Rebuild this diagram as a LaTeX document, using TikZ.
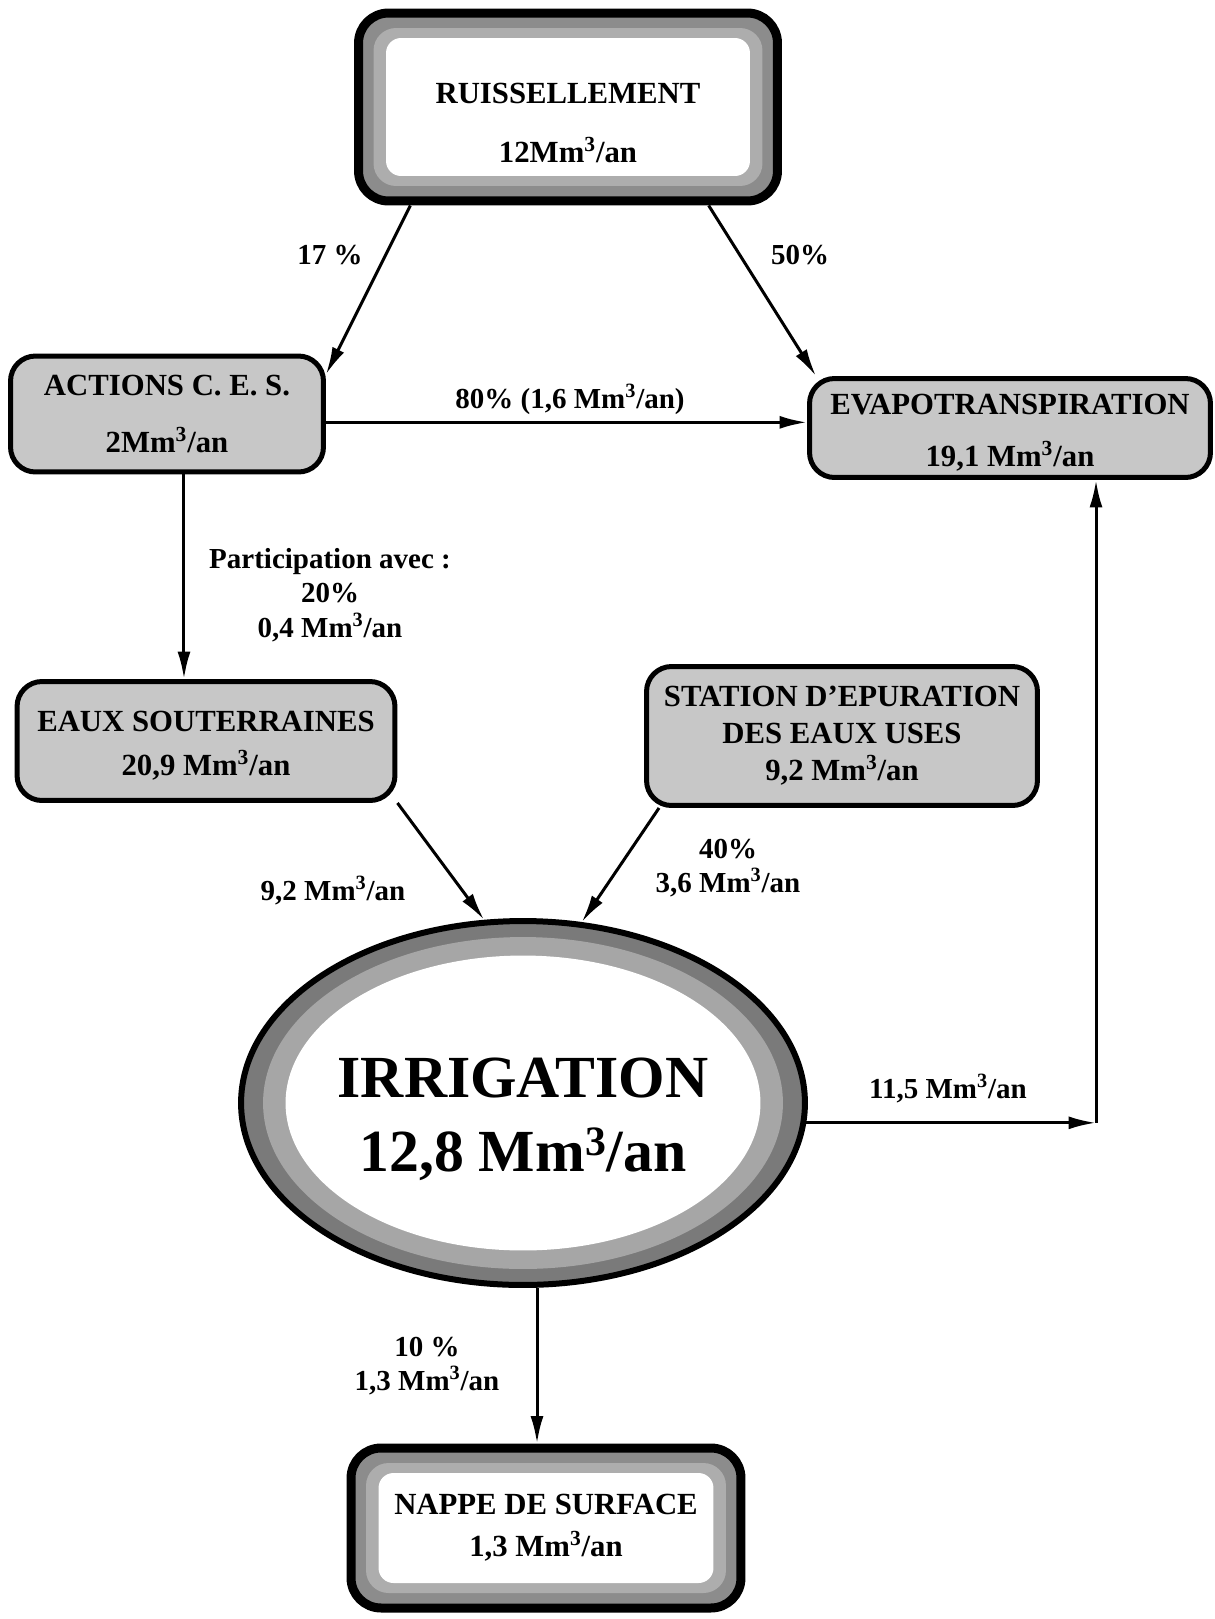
\documentclass[tikz,border=0pt]{standalone}
\usepackage{fontspec}
\setmainfont{Liberation Serif}
\usetikzlibrary{arrows.meta, shapes.geometric, positioning, calc}
\newcommand{\mmc}{Mm\textsuperscript{3}/an}

\begin{document}
\begin{tikzpicture}[
    x=0.02cm, y=-0.02cm,
    flux/.style={rectangle, draw=black, line width=0.1cm, fill=black!22, rounded corners=0.5cm, align=center, inner sep=0pt, font=\fontsize{17.5}{21}\selectfont\bfseries},
    bord/.style={rectangle, draw=black, line width=0.18cm, fill=black!45, rounded corners=0.6cm, align=center, inner sep=0pt, font=\fontsize{17.5}{21}\selectfont\bfseries,
        path picture={\fill[black!32, rounded corners=0.45cm] ([shift={(0.3cm,0.3cm)}]path picture bounding box.south west) rectangle ([shift={(-0.3cm,-0.3cm)}]path picture bounding box.north east);
                      \fill[white, rounded corners=0.3cm] ([shift={(0.55cm,0.5cm)}]path picture bounding box.south west) rectangle ([shift={(-0.55cm,-0.5cm)}]path picture bounding box.north east);}},
    lbl/.style={font=\fontsize{16.5}{19.5}\selectfont\bfseries, align=center, inner sep=0pt},
    arrow/.style={-{Latex[length=0.55cm, width=0.26cm]}, line width=0.06cm, draw=black}
]
    \useasboundingbox (0,0) rectangle (1214,1619);

    \node[bord, minimum width=8.38cm, minimum height=3.76cm] (ruiss) at (568,107) {\rule{0pt}{1.04cm}RUISSELLEMENT \\[0.45cm] 12\mmc};
    \node[flux, minimum width=6.26cm, minimum height=2.32cm] (actions) at (167,414) {ACTIONS C. E. S. \\[0.4cm] 2\mmc};
    \node[flux, minimum width=8.02cm, minimum height=1.98cm] (evapo) at (1010,428) {\rule{0pt}{0.6cm}EVAPOTRANSPIRATION \\[0.3cm] 19,1 \mmc};
    \node[flux, minimum width=7.56cm, minimum height=2.38cm] (eaux) at (206,741) {\rule{0pt}{0.6cm}EAUX SOUTERRAINES \\[0.15cm] 20,9 \mmc};
    \node[flux, minimum width=7.82cm, minimum height=2.78cm] (station) at (842,736) {STATION D'EPURATION \\ DES EAUX USES \\ 9,2 \mmc};
    \node[bord, minimum width=7.8cm, minimum height=3.2cm] (nappe) at (546,1528) {NAPPE DE SURFACE \\[0.1cm] 1,3 \mmc};

    % irrigation
    \node[ellipse, draw=black, line width=0.12cm, fill=black!52, minimum width=11.28cm, minimum height=7.28cm, inner sep=0pt,
        path picture={\fill[black!35] (path picture bounding box.center) ellipse [x radius=5.2cm, y radius=3.32cm];
                      \fill[white] (path picture bounding box.center) ellipse [x radius=4.75cm, y radius=2.95cm];}] (irrig) at (523,1103) {};
    \node[font=\fontsize{34}{42}\selectfont\bfseries, align=center] (irrigtext) at (523,1119) {IRRIGATION \\ 12,8 \mmc};

    \coordinate (cesdown) at ([xshift=0.34cm]actions.south);
    \coordinate (irrdown) at ([xshift=0.28cm]irrig.south);
    \coordinate (bend) at (1096,0 |- irrig.-4);

    \draw[arrow] (ruiss.212) -- (actions.14);
    \draw[arrow] (ruiss.-35) -- (evapo.165);
    \draw[arrow] (actions.-3) -- (actions.-3 -| evapo.west);
    \draw[arrow] (cesdown) -- (cesdown |- eaux.north);
    \draw[arrow] (eaux.south east) -- (irrig.102);
    \draw[arrow] ([xshift=0.3cm]station.south west) -- (irrig.72);
    \draw[arrow] (irrig.-4) -- (bend);
    \draw[arrow] (bend) -- (bend |- evapo.south);
    \draw[arrow] (irrdown) -- (irrdown |- nappe.north);

    \node[lbl] (p17) at (330,255) {17 \%};
    \node[lbl] (p50) at (800,255) {50\%};
    \node[lbl] (p80) at (570,399) {80\% (1,6 \mmc)};
    \node[lbl] (ppart) at (330,595) {Participation avec :\\20\%\\0,4 \mmc};
    \node[lbl] (p92) at (333,891) {9,2 \mmc};
    \node[lbl] (p40) at (728,868) {40\%\\3,6 \mmc};
    \node[lbl] (p115) at (948,1089) {11,5 \mmc};
    \node[lbl] (p10) at (427,1366) {10 \%\\1,3 \mmc};
\end{tikzpicture}
\end{document}
